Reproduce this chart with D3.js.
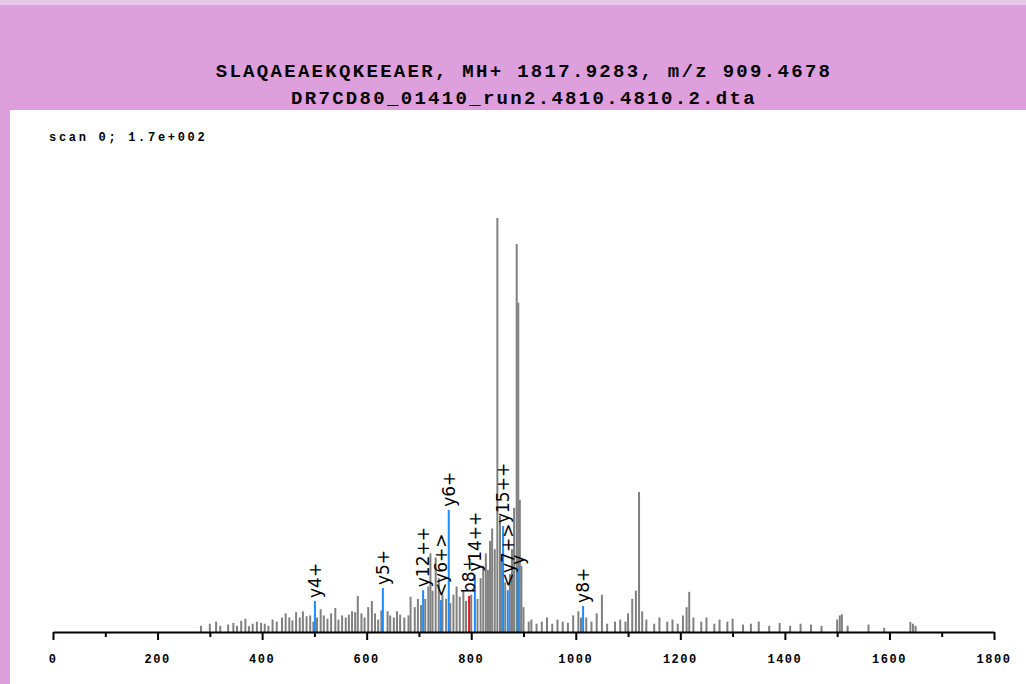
<!DOCTYPE html>
<html>
<head>
<meta charset="utf-8">
<script src="https://cdn.jsdelivr.net/npm/d3@7"></script>
<style>
  body { margin: 0; background: #fff; }
  svg { display: block; }
</style>
</head>
<body>
<svg id="chart" width="1026" height="684"></svg>
<script>
// Title lines
var titleLines = ["SLAQAEAEKQKEEAER, MH+ 1817.9283, m/z 909.4678", "DR7CD80_01410_run2.4810.4810.2.dta"];
var scanLabel = "scan 0; 1.7e+002";

// Unmatched peaks: [m/z, relative intensity %]
var grayPeaks = [[283,1.5],[300,2],[312,2.5],[320,1.5],[335,1.8],[345,2.2],[352,1.5],[360,2.7],[368,3.2],[375,1.4],[382,2],[390,2.5],[398,2.2],[405,2],[412,1.5],[420,3],[428,2.5],[438,3.5],[445,4.5],[452,3.5],[458,2.8],[465,4.8],[472,3.5],[478,5],[485,3.8],[492,4],[498,2.5],[505,3.5],[512,5.5],[518,4],[525,3.2],[532,4.5],[540,5.8],[546,3],[553,4],[560,3.5],[566,4.2],[572,5],[578,4.8],[583,8.7],[590,4.5],[596,3.5],[603,6],[610,7.5],[616,4.5],[622,3],[628,5.2],[640,5],[645,4],[652,3.5],[658,5],[664,4.2],[672,3.5],[680,4],[684,8.5],[692,6],[698,8],[704,6.5],[712,8],[718,11],[722,19],[726,10],[732,18],[738,13],[745,9],[752,8],[760,7],[766,9],[772,11],[778,8.5],[785,10],[790,7.5],[800,9],[812,8],[818,13],[823,16],[828,19],[832,15],[836,22],[840,25],[845,20],[850,100],[855,28],[858,18],[865,12],[874,14],[878,20],[882,30],[887,93.7],[890,79.5],[893,31.9],[896,16],[900,6],[910,2.5],[915,3],[925,2],[935,2.5],[945,3.5],[955,2],[965,3],[975,2.5],[985,2.2],[995,4],[1005,5],[1010,3.5],[1020,3.5],[1030,2.5],[1040,4.5],[1050,9],[1060,2],[1075,2.5],[1085,3],[1095,2.5],[1100,4.5],[1108,8],[1115,10],[1121,33.8],[1127,5],[1135,3],[1150,2],[1160,3.5],[1175,2.5],[1185,3],[1195,2],[1205,4],[1212,6],[1217,9.7],[1225,3.5],[1240,2.5],[1250,3.5],[1265,2],[1275,3],[1290,2.5],[1300,3.2],[1320,1.8],[1335,2],[1350,2.5],[1370,1.5],[1390,2.2],[1410,1.5],[1430,2],[1450,1.8],[1470,1.5],[1500,3],[1505,4],[1509,4.3],[1520,1.5],[1560,1.8],[1590,1],[1640,2.4],[1645,2],[1650,1.5]];

// Matched fragment ions
var ionMz    = [501, 631, 708, 742, 757, 796, 807, 861, 870, 889, 1014];
var ionInt   = [7.5, 10.6, 10.1, 7.7, 29.5, 8.7, 13.8, 25.6, 10.1, 15.5, 6.3];
var ionLabel = ["y4+", "y5+", "y12++", "<y6+>", "y6+", "b8+", "y14++", "y15++", "<y7+>", "y", "y8+"];
var ionType  = ["y", "y", "y", "y", "y", "b", "y", "y", "y", "y", "y"];

var xTicks = [0, 200, 400, 600, 800, 1000, 1200, 1400, 1600, 1800];

var svg = d3.select("#chart");

// Background panels
svg.append("rect").attr("width", 1026).attr("height", 684).attr("fill", "#dda0dd");
svg.append("rect").attr("width", 1026).attr("height", 5).attr("fill", "#e8c8e8");
svg.append("rect").attr("x", 10).attr("y", 110).attr("width", 1016).attr("height", 574).attr("fill", "#fff");

svg.selectAll(".title").data(titleLines).enter().append("text")
    .attr("x", 524).attr("y", function (d, i) { return 77 + i * 27; })
    .attr("text-anchor", "middle")
    .style("font-family", "Liberation Mono, monospace")
    .style("font-size", "19px").style("font-weight", "bold")
    .style("letter-spacing", "2.3px")
    .text(function (d) { return d; });

svg.append("text").attr("x", 49).attr("y", 141)
    .style("font-family", "Liberation Mono, monospace")
    .style("font-size", "12px").style("font-weight", "bold")
    .style("letter-spacing", "2.7px")
    .text(scanLabel);

var x = d3.scaleLinear().domain([0, 1800]).range([53, 994]);
var y = d3.scaleLinear().domain([0, 100]).range([632, 218]);

svg.selectAll(".peak").data(grayPeaks).enter().append("line")
    .attr("x1", function (d) { return x(d[0]); }).attr("x2", function (d) { return x(d[0]); })
    .attr("y1", y(0)).attr("y2", function (d) { return y(d[1]); })
    .attr("stroke", "#808080").attr("stroke-width", 2);

var ions = ionMz.map(function (m, i) { return { mz: m, v: ionInt[i], label: ionLabel[i], type: ionType[i] }; });

svg.selectAll(".ion").data(ions).enter().append("line")
    .attr("x1", function (d) { return x(d.mz); }).attr("x2", function (d) { return x(d.mz); })
    .attr("y1", y(0)).attr("y2", function (d) { return y(d.v); })
    .attr("stroke", function (d) { return d.type === "b" ? "#ee1111" : "#1a8cff"; })
    .attr("stroke-width", 2);

svg.selectAll(".ionLabel").data(ions).enter().append("text")
    .attr("transform", function (d) { return "translate(" + (x(d.mz) + 6) + "," + (y(d.v) - 3) + ") rotate(-90)"; })
    .style("font-family", "DejaVu Sans, sans-serif")
    .style("font-size", "17px")
    .text(function (d) { return d.label; });

// Axis
var axis = d3.axisBottom(x).tickValues(d3.range(0, 1801, 100)).tickSize(0).tickFormat("");
var gx = svg.append("g").attr("transform", "translate(0," + y(0) + ")").call(axis);
gx.select(".domain").attr("stroke", "#000").attr("stroke-width", 2);
gx.selectAll(".tick line").attr("y2", function (d) { return d % 200 === 0 ? 8 : 5; })
    .attr("stroke", "#000").attr("stroke-width", 2);

svg.selectAll(".tickLabel").data(xTicks).enter().append("text")
    .attr("x", function (d) { return x(d); }).attr("y", 663)
    .attr("text-anchor", "middle")
    .style("font-family", "Liberation Mono, monospace")
    .style("font-size", "12px").style("font-weight", "bold")
    .style("letter-spacing", "1.5px")
    .text(function (d) { return d; });
</script>
</body>
</html>
